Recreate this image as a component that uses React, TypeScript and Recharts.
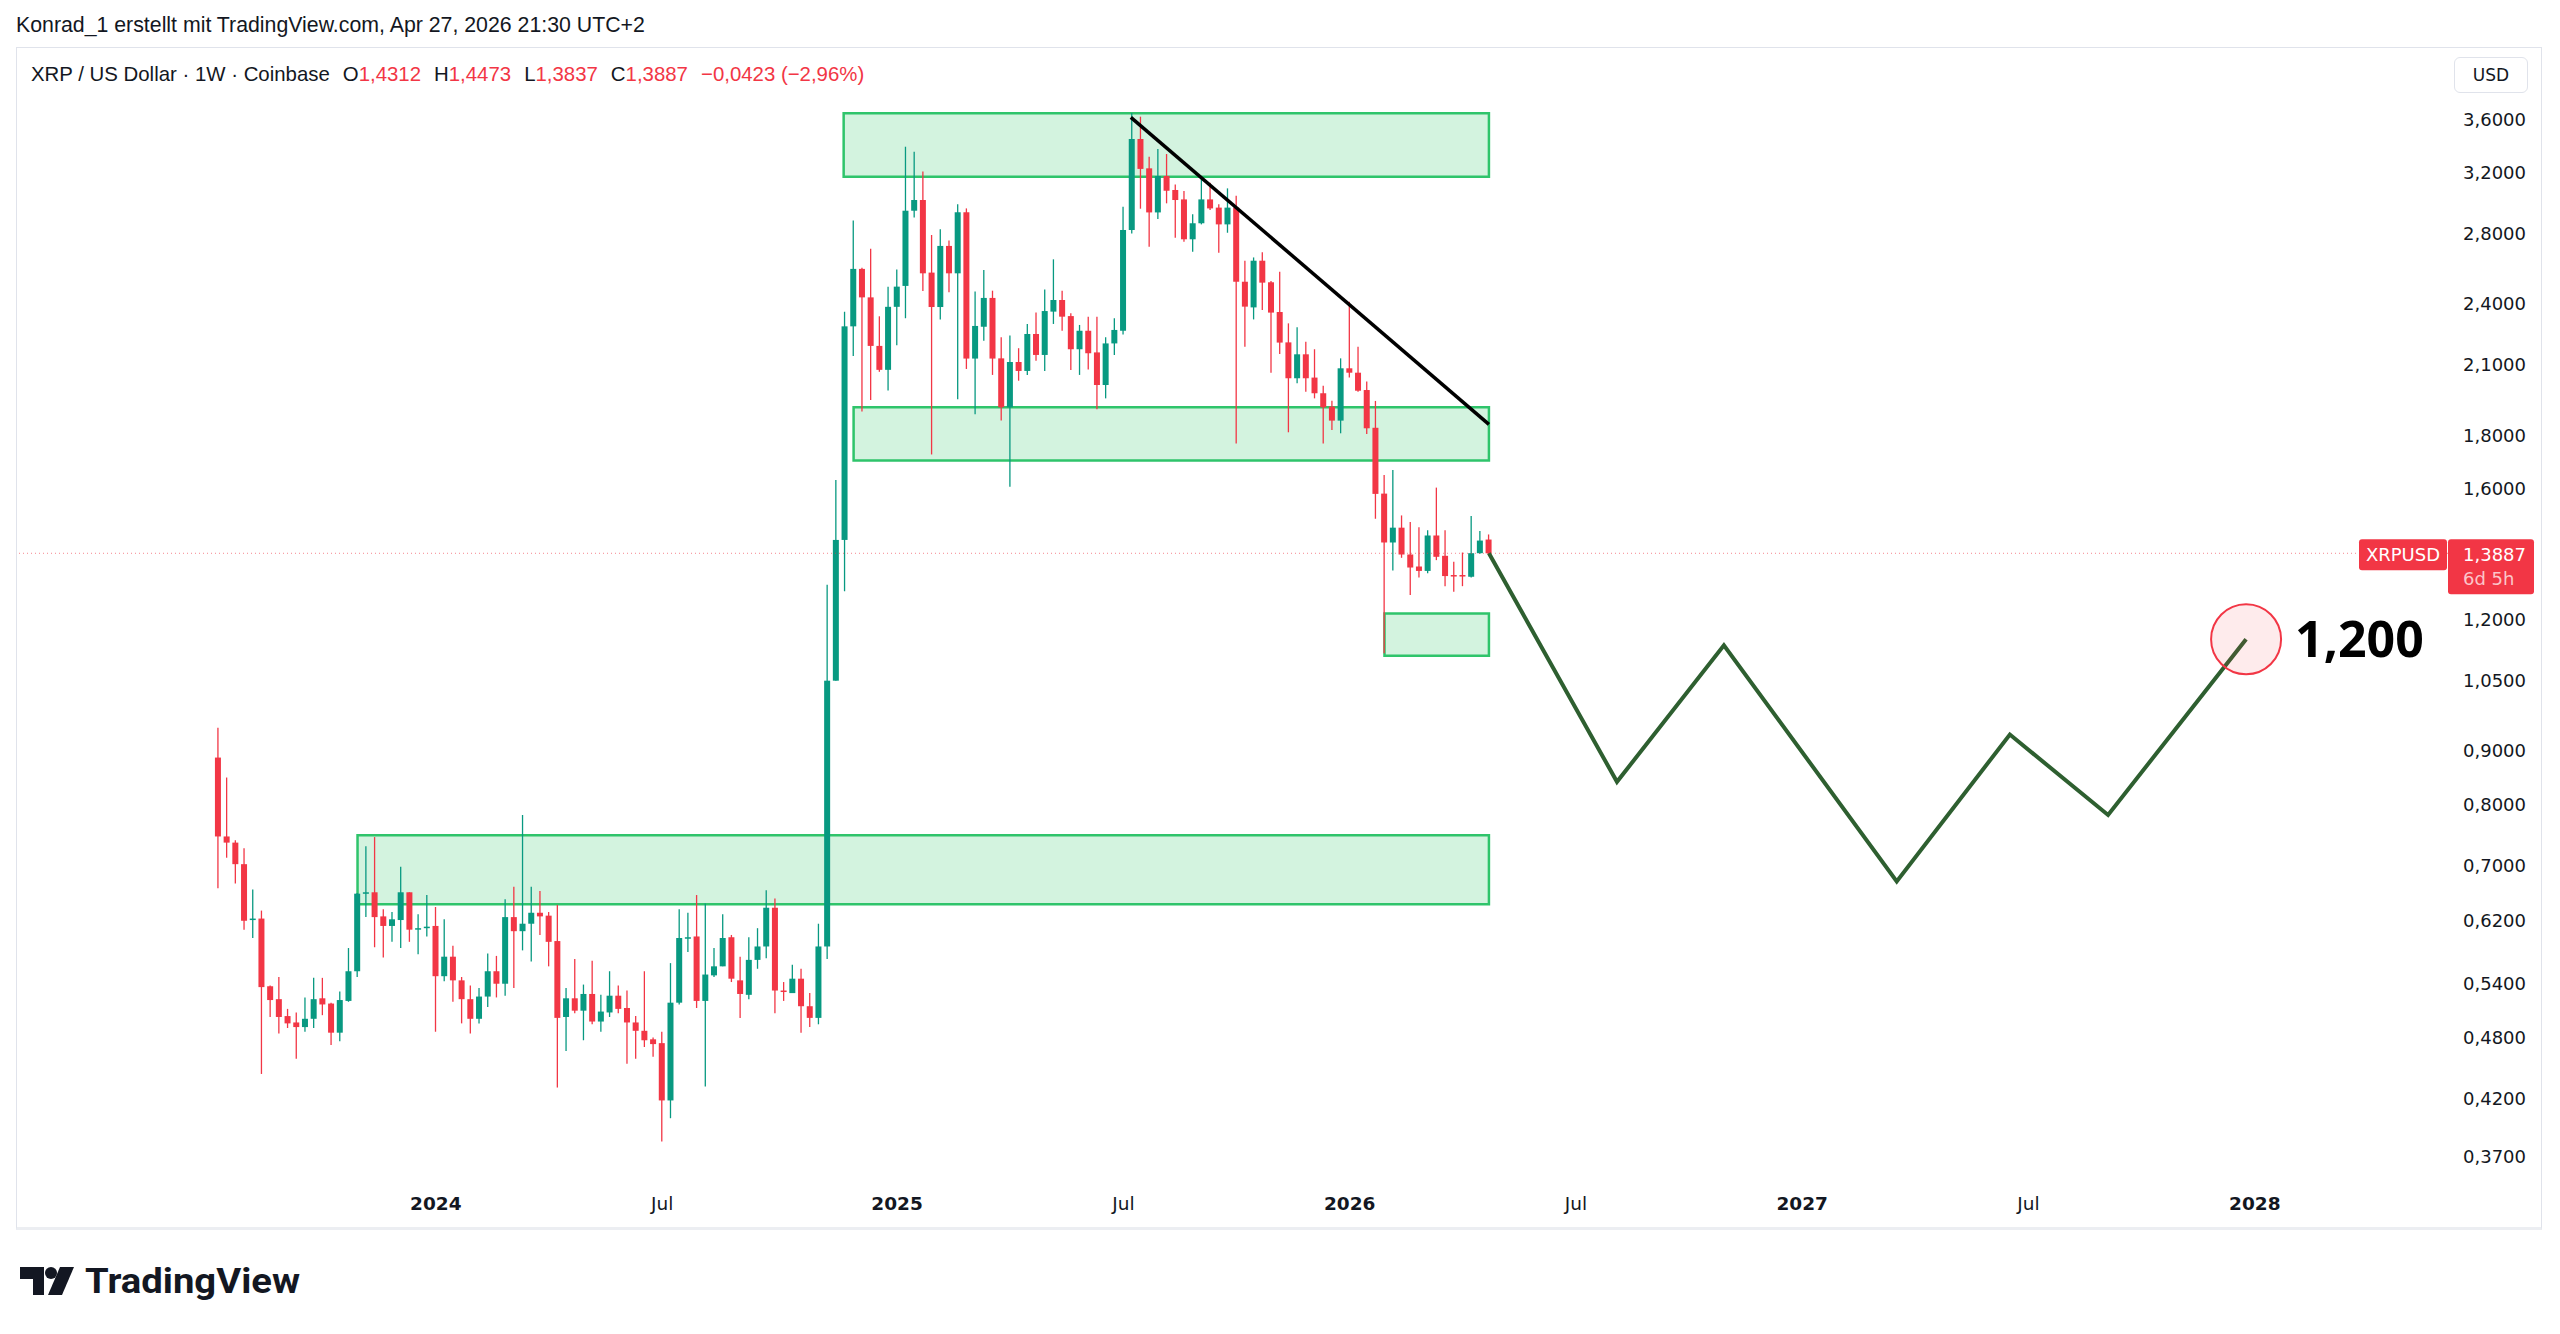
import React from "react";
import {
  ComposedChart, Bar, Line, XAxis, YAxis,
  ReferenceArea, ReferenceLine, ReferenceDot,
} from "recharts";

// weekly candles, Coinbase XRPUSD, first week starts on this Monday
const FIRST_WEEK = "2023-07-10";

const OPEN = [
  0.887, 0.746, 0.736, 0.702, 0.621, 0.623, 0.537, 0.522, 0.503, 0.496,
  0.491, 0.500, 0.523, 0.517, 0.485, 0.520, 0.555, 0.659, 0.660, 0.626,
  0.613, 0.621, 0.660, 0.608, 0.610, 0.613, 0.549, 0.573, 0.544, 0.522,
  0.500, 0.525, 0.555, 0.540, 0.625, 0.606, 0.616, 0.631, 0.627, 0.593,
  0.502, 0.523, 0.509, 0.528, 0.497, 0.507, 0.526, 0.512, 0.496, 0.487,
  0.478, 0.474, 0.418, 0.518, 0.597, 0.599, 0.520, 0.550, 0.561, 0.598,
  0.544, 0.527, 0.569, 0.586, 0.638, 0.532, 0.529, 0.546, 0.514, 0.501,
  0.586, 1.050, 1.430, 2.285, 2.592, 2.435, 2.189, 2.077, 2.385, 2.497,
  2.945, 3.015, 2.571, 2.384, 2.726, 2.567, 2.935, 2.129, 2.283, 2.432,
  2.130, 1.913, 2.113, 2.072, 2.247, 2.146, 2.360, 2.421, 2.337, 2.173,
  2.263, 2.158, 2.009, 2.201, 2.263, 2.823, 3.447, 3.232, 2.934, 3.178,
  3.082, 3.019, 2.766, 2.865, 3.019, 2.965, 2.858, 2.965, 2.520, 2.382,
  2.639, 2.517, 2.358, 2.206, 2.039, 2.149, 2.042, 1.973, 1.916, 1.858,
  2.084, 2.064, 1.987, 1.829, 1.583, 1.422, 1.469, 1.385, 1.349, 1.336,
  1.444, 1.381, 1.324, 1.324, 1.319, 1.389, 1.4312,
];
const HIGH = [
  0.947, 0.849, 0.740, 0.727, 0.664, 0.634, 0.538, 0.548, 0.511, 0.507,
  0.524, 0.547, 0.547, 0.518, 0.531, 0.584, 0.659, 0.730, 0.745, 0.636,
  0.632, 0.698, 0.660, 0.629, 0.656, 0.639, 0.622, 0.587, 0.548, 0.538,
  0.535, 0.577, 0.574, 0.650, 0.668, 0.782, 0.668, 0.662, 0.632, 0.642,
  0.535, 0.570, 0.539, 0.568, 0.527, 0.555, 0.538, 0.532, 0.503, 0.555,
  0.480, 0.486, 0.565, 0.636, 0.631, 0.656, 0.644, 0.584, 0.629, 0.601,
  0.573, 0.598, 0.610, 0.663, 0.651, 0.542, 0.563, 0.558, 0.529, 0.616,
  1.296, 1.631, 2.359, 2.883, 2.599, 2.709, 2.336, 2.493, 2.588, 3.389,
  3.352, 3.209, 2.792, 2.827, 2.758, 2.987, 2.960, 2.466, 2.586, 2.471,
  2.231, 2.239, 2.178, 2.297, 2.355, 2.478, 2.647, 2.471, 2.351, 2.292,
  2.334, 2.334, 2.231, 2.326, 2.971, 3.650, 3.620, 3.315, 3.372, 3.335,
  3.120, 3.075, 2.922, 3.178, 3.131, 2.987, 3.093, 3.043, 2.639, 2.658,
  2.688, 2.524, 2.576, 2.300, 2.280, 2.209, 2.173, 2.006, 1.941, 2.130,
  2.412, 2.185, 2.024, 1.940, 1.649, 1.667, 1.509, 1.487, 1.470, 1.461,
  1.604, 1.461, 1.363, 1.391, 1.507, 1.458, 1.4473,
];
const LOW = [
  0.666, 0.712, 0.673, 0.608, 0.597, 0.443, 0.502, 0.484, 0.490, 0.458,
  0.486, 0.490, 0.504, 0.472, 0.476, 0.519, 0.548, 0.625, 0.585, 0.572,
  0.592, 0.584, 0.592, 0.576, 0.599, 0.486, 0.543, 0.519, 0.495, 0.484,
  0.495, 0.513, 0.524, 0.526, 0.535, 0.581, 0.567, 0.601, 0.561, 0.430,
  0.466, 0.506, 0.477, 0.494, 0.486, 0.502, 0.506, 0.453, 0.458, 0.470,
  0.460, 0.382, 0.402, 0.516, 0.579, 0.512, 0.431, 0.548, 0.561, 0.542,
  0.501, 0.522, 0.558, 0.571, 0.506, 0.520, 0.529, 0.485, 0.491, 0.494,
  0.570, 1.050, 1.278, 2.141, 1.896, 1.944, 2.068, 1.985, 2.192, 2.326,
  2.901, 2.469, 1.725, 2.320, 2.462, 1.947, 2.081, 1.884, 2.214, 2.054,
  1.858, 1.607, 2.028, 2.054, 2.119, 2.072, 2.297, 2.263, 2.076, 2.054,
  2.079, 1.905, 1.951, 2.146, 2.245, 2.802, 2.958, 2.721, 2.892, 2.993,
  2.776, 2.751, 2.692, 2.858, 2.949, 2.686, 2.806, 1.767, 2.185, 2.320,
  2.369, 2.064, 2.151, 1.811, 2.017, 1.980, 1.951, 1.767, 1.820, 1.807,
  2.042, 1.980, 1.804, 1.498, 1.115, 1.337, 1.375, 1.267, 1.317, 1.329,
  1.368, 1.292, 1.276, 1.292, 1.317, 1.387, 1.3837,
];
const CLOSE = [
  0.746, 0.736, 0.702, 0.620, 0.623, 0.536, 0.521, 0.502, 0.495, 0.491,
  0.500, 0.522, 0.516, 0.485, 0.521, 0.555, 0.658, 0.660, 0.625, 0.613,
  0.622, 0.660, 0.608, 0.610, 0.612, 0.549, 0.573, 0.544, 0.522, 0.500,
  0.525, 0.555, 0.540, 0.625, 0.606, 0.616, 0.631, 0.626, 0.592, 0.501,
  0.523, 0.509, 0.528, 0.497, 0.508, 0.526, 0.511, 0.496, 0.487, 0.477,
  0.473, 0.418, 0.518, 0.597, 0.598, 0.520, 0.551, 0.561, 0.597, 0.546,
  0.528, 0.569, 0.586, 0.638, 0.532, 0.531, 0.546, 0.514, 0.501, 0.586,
  1.050, 1.430, 2.285, 2.592, 2.435, 2.189, 2.077, 2.385, 2.493, 2.945,
  3.015, 2.567, 2.384, 2.726, 2.567, 2.935, 2.129, 2.287, 2.432, 2.129,
  1.913, 2.113, 2.072, 2.247, 2.146, 2.363, 2.421, 2.334, 2.173, 2.263,
  2.154, 2.009, 2.201, 2.267, 2.823, 3.447, 3.228, 2.934, 3.178, 3.077,
  3.015, 2.766, 2.865, 3.019, 2.960, 2.858, 2.965, 2.520, 2.386, 2.639,
  2.515, 2.355, 2.205, 2.039, 2.149, 2.039, 1.973, 1.913, 1.858, 2.084,
  2.064, 1.984, 1.827, 1.582, 1.422, 1.469, 1.385, 1.346, 1.336, 1.444,
  1.378, 1.321, 1.321, 1.321, 1.389, 1.428, 1.3887,
];

const Y_TICKS = [3.6, 3.2, 2.8, 2.4, 2.1, 1.8, 1.6, 1.2, 1.05, 0.9, 0.8, 0.7, 0.62, 0.54, 0.48, 0.42, 0.37];
// TradingView puts period labels on the first weekly bar of the period
const X_TICK_DATES = ["2024-01-01", "2024-07-01", "2025-01-06", "2025-07-07", "2026-01-05", "2026-07-06", "2027-01-04", "2027-07-05", "2028-01-03"];
const X_TICK_LABELS = ["2024", "Jul", "2025", "Jul", "2026", "Jul", "2027", "Jul", "2028"];

// drawings
const ZONE_FROM = ["2024-11-24", "2024-12-02", "2026-02-02", "2023-10-30"];
const ZONE_TO = "2026-04-27";
const ZONE_TOP = [3.647, 1.913, 1.217, 0.748];
const ZONE_BOTTOM = [3.173, 1.702, 1.109, 0.643];

const TREND_DATES = ["2025-07-13", "2026-04-27"];
const TREND_PRICES = [3.615, 1.843];

const PATH_DATES = ["2026-04-27", "2026-08-08", "2026-11-02", "2027-03-21", "2027-06-20", "2027-09-07", "2027-12-27"];
const PATH_PRICES = [1.3887, 0.841, 1.135, 0.676, 0.933, 0.782, 1.15];
const TARGET_LABEL = "1,200";

const HEADER = "Konrad_1 erstellt mit TradingView.com, Apr 27, 2026 21:30 UTC+2";
const SYMBOL = "XRP / US Dollar · 1W · Coinbase";
const CHANGE = "−0,0423 (−2,96%)";

const GREEN = "#089981";
const RED = "#f23645";
const TEXT = "#131722";
const AXIS_FONT = "'DejaVu Sans', sans-serif";
const UI_FONT = "'Liberation Sans', Arial, sans-serif";

const day = (s: string) => Math.round((Date.parse(s) - Date.parse("2024-01-01")) / 86400000);
const fmt = (v: number) => v.toFixed(4).replace(".", ",");

const firstDay = day(FIRST_WEEK);
const candles = OPEN.map((o, i) => ({
  t: firstDay + i * 7,
  o, h: HIGH[i], l: LOW[i], c: CLOSE[i],
  range: [LOW[i], HIGH[i]],
}));
const path = PATH_DATES.map((d, i) => ({ t: day(d), p: PATH_PRICES[i] }));
const xTicks = X_TICK_DATES.map(day);
const last = candles.length - 1;

function Candle(props: any) {
  const { x, y, width, height, payload } = props;
  if (x == null || y == null || !payload) return null;
  const { o, h, l, c } = payload;
  const cx = x + width / 2;
  const span = Math.log(h) - Math.log(l);
  const at = (v: number) => (span > 0 ? y + (height * (Math.log(h) - Math.log(v))) / span : y);
  const color = c >= o ? GREEN : RED;
  const top = at(Math.max(o, c));
  const bot = at(Math.min(o, c));
  return (
    <g>
      <line x1={cx} x2={cx} y1={y} y2={y + height} stroke={color} strokeWidth={1.3} />
      <rect x={cx - 3} y={top} width={6} height={Math.max(bot - top, 1.5)} fill={color} />
    </g>
  );
}

function PriceTick(props: any) {
  const { x, y, payload } = props;
  return (
    <text x={x + 15} y={y} dy={6.5} fontSize={18} fontFamily={AXIS_FONT} fill={TEXT}>
      {fmt(payload.value)}
    </text>
  );
}

function TimeTick(props: any) {
  const { x, y, payload } = props;
  const label = X_TICK_LABELS[xTicks.indexOf(payload.value)] ?? "";
  return (
    <text x={x} y={y + 31} textAnchor="middle" fontSize={18.5} fontFamily={AXIS_FONT}
      fontWeight={label === "Jul" ? 400 : 700} fill={TEXT}>
      {label}
    </text>
  );
}

function PriceTag(props: any) {
  const vb = props.viewBox;
  if (!vb) return null;
  const y = vb.y;
  const ax = vb.x + vb.width;
  return (
    <g fontFamily={AXIS_FONT} fontSize={18}>
      <rect x={ax - 89} y={y - 14} width={88} height={31} rx={3} fill={RED} />
      <text x={ax - 45} y={y + 8} textAnchor="middle" fill="#fff">XRPUSD</text>
      <rect x={ax} y={y - 14} width={86} height={55} rx={3} fill={RED} />
      <text x={ax + 15} y={y + 7.5} fill="#fff">{fmt(CLOSE[last])}</text>
      <text x={ax + 15} y={y + 32} fill="rgba(255,255,255,0.72)">6d 5h</text>
    </g>
  );
}

export default function App() {
  const ohlc = [["O", OPEN[last]], ["H", HIGH[last]], ["L", LOW[last]], ["C", CLOSE[last]]] as const;
  return (
    <div style={{ position: "absolute", left: 0, top: 0, width: 2560, height: 1334, background: "#fff", overflow: "hidden" }}>
      <div style={{ position: "absolute", left: 16, top: 13, fontFamily: UI_FONT, fontSize: 21.3, color: TEXT, whiteSpace: "nowrap" }}>
        {HEADER}
      </div>
      <div style={{ position: "absolute", left: 16, top: 47, width: 2524, height: 1179, border: "1px solid #e0e3eb", borderBottom: "3px solid #eceef2" }} />
      <div style={{ position: "absolute", left: 31, top: 63, fontFamily: UI_FONT, fontSize: 20.4, color: TEXT, whiteSpace: "nowrap", zIndex: 2 }}>
        <span style={{ marginRight: 13 }}>{SYMBOL}</span>
        {ohlc.map(([k, v]) => (
          <span key={k} style={{ marginRight: 13 }}>
            {k}<span style={{ color: RED }}>{fmt(v)}</span>
          </span>
        ))}
        <span style={{ color: RED }}>{CHANGE}</span>
      </div>
      <div style={{
        position: "absolute", left: 2454, top: 57, width: 72, height: 34, border: "1px solid #e0e3eb",
        borderRadius: 6, fontFamily: AXIS_FONT, fontSize: 17, color: TEXT, textAlign: "center", lineHeight: "34px", zIndex: 2,
      }}>USD</div>

      <div style={{ position: "absolute", left: 0, top: 0 }}>
        <ComposedChart width={2560} height={1334} data={candles}
          margin={{ top: 47, right: 18, bottom: 106, left: 16 }}>
          <XAxis dataKey="t" type="number" domain={[-337.7, 1618.4]} allowDataOverflow
            ticks={xTicks} interval={0} tickLine={false} axisLine={false}
            tickSize={0} tickMargin={0} height={49} tick={TimeTick} />
          <YAxis orientation="right" scale="log" domain={[0.3518, 4.218]} allowDataOverflow
            ticks={Y_TICKS} interval={0} tickLine={false} axisLine={false}
            tickSize={0} tickMargin={0} width={94} tick={PriceTick} />
          {ZONE_FROM.map((from, i) => (
            <ReferenceArea key={i} x1={day(from)} x2={day(ZONE_TO)} y1={ZONE_BOTTOM[i]} y2={ZONE_TOP[i]}
              fill="rgba(34,197,94,0.2)" fillOpacity={1} stroke="#2fc46b" strokeWidth={2.5} ifOverflow="visible" />
          ))}
          <ReferenceLine y={CLOSE[last]} stroke={RED} strokeOpacity={0.6} strokeDasharray="1 3" label={<PriceTag />} />
          <Bar dataKey="range" barSize={6} shape={<Candle />} isAnimationActive={false} />
          <ReferenceDot x={path[path.length - 1].t} y={path[path.length - 1].p} r={35}
            fill="rgba(242,54,69,0.1)" stroke={RED} strokeWidth={2} ifOverflow="visible"
            label={{ value: TARGET_LABEL, position: "right", offset: 14, fill: "#000", fontSize: 50, fontWeight: 700, fontFamily: "'Noto Sans', sans-serif" }} />
          <ReferenceLine segment={[{ x: day(TREND_DATES[0]), y: TREND_PRICES[0] }, { x: day(TREND_DATES[1]), y: TREND_PRICES[1] }]}
            stroke="#000" strokeWidth={3.5} ifOverflow="visible" />
          <Line data={path} dataKey="p" type="linear" stroke="#2e5f30" strokeWidth={4}
            dot={false} activeDot={false} isAnimationActive={false} />
        </ComposedChart>
      </div>

      <svg style={{ position: "absolute", left: 0, top: 1255 }} width={320} height={60}>
        <path d="M20 12 H44 V40 H33 V24 H20 Z" fill={TEXT} />
        <circle cx={51} cy={18} r={6} fill={TEXT} />
        <path d="M60 12 H74 L62 40 H48 Z" fill={TEXT} />
        <text x={85} y={38} fontFamily="Roboto, sans-serif" fontWeight={700} fontSize={35}
          textLength={215} lengthAdjust="spacingAndGlyphs" fill={TEXT}>TradingView</text>
      </svg>
    </div>
  );
}
